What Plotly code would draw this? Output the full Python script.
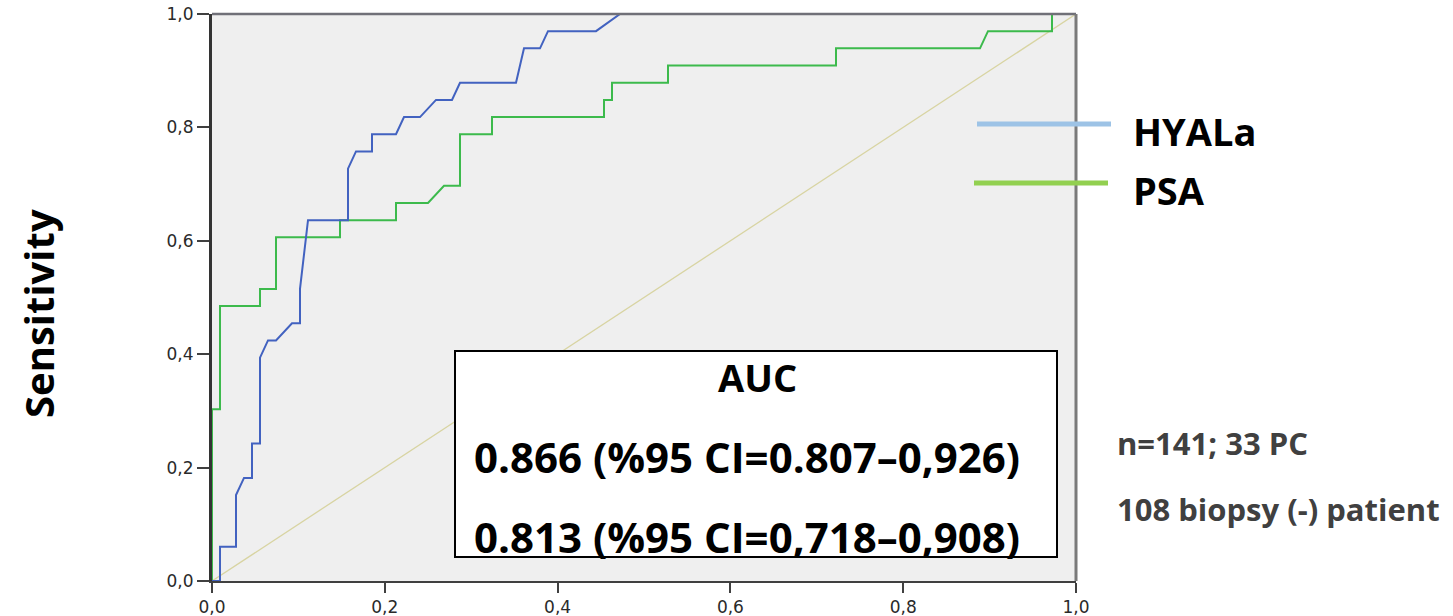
import plotly.graph_objects as go

# ROC operating points as counts: false positives out of the biopsy-negative
# group and true positives out of the cancer group.
N_NEG = 108
N_POS = 33

hyal_fp = [0, 1, 1, 3, 3, 4, 5, 5, 6, 6, 7, 8, 10, 11, 11, 12, 17, 17, 18, 20, 20,
           23, 24, 26, 28, 30, 31, 38, 39, 41, 42, 48, 51, 108]
hyal_tp = [0, 0, 2, 2, 5, 6, 6, 8, 8, 13, 14, 14, 15, 15, 17, 21, 21, 24, 25, 25, 26,
           26, 27, 27, 28, 28, 29, 29, 31, 31, 32, 32, 33, 33]

psa_fp = [0, 0, 1, 1, 6, 6, 8, 8, 16, 16, 23, 23, 27, 29, 31, 31, 35, 35, 49, 49, 50,
          50, 57, 57, 78, 78, 96, 97, 105, 105, 108]
psa_tp = [0, 10, 10, 16, 16, 17, 17, 20, 20, 21, 21, 22, 22, 23, 23, 26, 26, 27, 27, 28, 28,
          29, 29, 30, 30, 31, 31, 32, 32, 33, 33]

tick_vals = [0.0, 0.2, 0.4, 0.6, 0.8, 1.0]
tick_text = ["0,0", "0,2", "0,4", "0,6", "0,8", "1,0"]

series_names = ["HYALa", "PSA"]
legend_colors = ["#9dc3e6", "#92d050"]
auc_lines = ["0.866 (%95 CI=0.807\u20130,926)", "0.813 (%95 CI=0,718\u20130,908)"]
note_lines = ["n=141; 33 PC", "108 biopsy (-) patient"]

BOLD = "Open Sans"

fig = go.Figure()

# reference diagonal
fig.add_trace(go.Scatter(x=[0, 1], y=[0, 1], mode="lines",
                         line=dict(color="#d8d4a2", width=1.3),
                         hoverinfo="skip", showlegend=False))

fig.add_trace(go.Scatter(x=[v / N_NEG for v in psa_fp], y=[v / N_POS for v in psa_tp],
                         mode="lines", name=series_names[1],
                         line=dict(color="#3cba4c", width=2), showlegend=False))
fig.add_trace(go.Scatter(x=[v / N_NEG for v in hyal_fp], y=[v / N_POS for v in hyal_tp],
                         mode="lines", name=series_names[0],
                         line=dict(color="#4262c0", width=2), showlegend=False))

W, H = 1453, 616
L, R, T, B = 212, 1076, 14, 581


def px(xp):
    return (xp - L) / (R - L)


def py(yp):
    return (B - yp) / (B - T)


shapes = [
    # top and right frame lines
    dict(type="line", xref="paper", yref="paper", x0=0, x1=1, y0=1, y1=1,
         line=dict(color="#707078", width=2.5)),
    dict(type="line", xref="paper", yref="paper", x0=1, x1=1, y0=0, y1=1,
         line=dict(color="#7a7a7a", width=3)),
    # AUC box
    dict(type="rect", xref="paper", yref="paper",
         x0=px(455), x1=px(1057), y0=py(557), y1=py(351),
         fillcolor="white", line=dict(color="black", width=2)),
    # legend swatches
    dict(type="line", xref="paper", yref="paper", x0=px(977), x1=px(1111),
         y0=py(124), y1=py(124), line=dict(color=legend_colors[0], width=5)),
    dict(type="line", xref="paper", yref="paper", x0=px(974), x1=px(1108),
         y0=py(183), y1=py(183), line=dict(color=legend_colors[1], width=5)),
]

annotations = [
    dict(text="<b>Sensitivity</b>", xref="paper", yref="paper", x=px(38), y=py(314),
         textangle=-90, showarrow=False, xanchor="center", yanchor="middle",
         font=dict(family=BOLD, size=40, color="black")),
    dict(text="<b>AUC</b>", xref="paper", yref="paper", x=px(757), y=py(377),
         showarrow=False, xanchor="center", yanchor="middle",
         font=dict(family=BOLD, size=38, color="black")),
    dict(text="<b>" + auc_lines[0] + "</b>", xref="paper", yref="paper", x=px(472), y=py(456),
         showarrow=False, xanchor="left", yanchor="middle",
         font=dict(family=BOLD, size=42, color="black")),
    dict(text="<b>" + auc_lines[1] + "</b>", xref="paper", yref="paper", x=px(472), y=py(536),
         showarrow=False, xanchor="left", yanchor="middle",
         font=dict(family=BOLD, size=42, color="black")),
    dict(text="<b>" + series_names[0] + "</b>", xref="paper", yref="paper", x=px(1131), y=py(131),
         showarrow=False, xanchor="left", yanchor="middle",
         font=dict(family=BOLD, size=38, color="black")),
    dict(text="<b>" + series_names[1] + "</b>", xref="paper", yref="paper", x=px(1131), y=py(190),
         showarrow=False, xanchor="left", yanchor="middle",
         font=dict(family=BOLD, size=38, color="black")),
    dict(text="<b>" + note_lines[0] + "</b>", xref="paper", yref="paper", x=px(1115), y=py(443),
         showarrow=False, xanchor="left", yanchor="middle",
         font=dict(family=BOLD, size=31, color="#404040")),
    dict(text="<b>" + note_lines[1] + "</b>", xref="paper", yref="paper", x=px(1115), y=py(509),
         showarrow=False, xanchor="left", yanchor="middle",
         font=dict(family=BOLD, size=31, color="#404040")),
]

axis_common = dict(range=[0, 1], tickvals=tick_vals, ticktext=tick_text,
                   showgrid=False, zeroline=False, ticks="outside",
                   tickfont=dict(family="DejaVu Sans", size=17, color="#2a2a2a"),
                   showline=True, layer="below traces", fixedrange=True,
                   automargin=False)

fig.update_layout(
    width=W, height=H,
    margin=dict(l=L, r=W - R, t=T, b=H - B, pad=0, autoexpand=False),
    paper_bgcolor="white", plot_bgcolor="#efefef",
    xaxis=dict(**axis_common, linecolor="#404040", linewidth=2,
               ticklen=10, tickwidth=2, tickcolor="#404040"),
    yaxis=dict(**axis_common, linecolor="#333333", linewidth=3,
               ticklen=12, tickwidth=2, tickcolor="#404040"),
    shapes=shapes, annotations=annotations, showlegend=False,
)

fig.write_html("out.html", config={"displayModeBar": False})
